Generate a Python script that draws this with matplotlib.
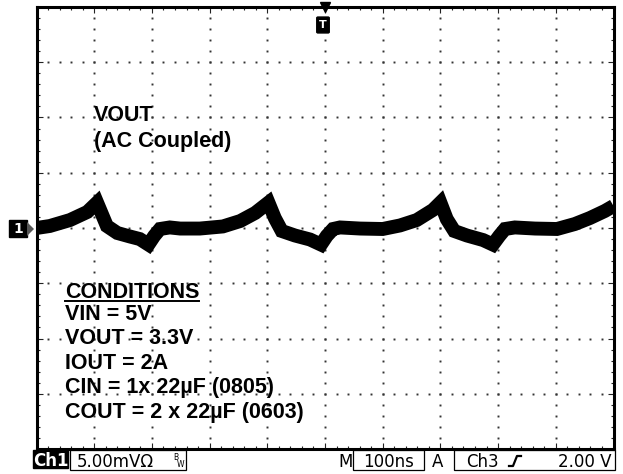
import matplotlib
matplotlib.use("Agg")
import matplotlib.pyplot as plt
import numpy as np
from matplotlib.patches import Rectangle, FancyBboxPatch
from matplotlib.lines import Line2D
from matplotlib.ticker import MultipleLocator

W, H = 623, 474

# VOUT ripple trace (AC coupled), time in ns (0 = trigger), voltage in mV
t_ns = [-500, -477, -442, -412, -395, -378, -360, -338, -321, -306,
        -296, -286, -269, -251, -217, -177, -147, -121, -98, -87,
        -75, -52, -26, -7, 3, 14, 26, 61, 100, 130,
        159, 187, 200, 211, 224, 246, 274, 291, 302, 312,
        329, 364, 402, 433, 459, 485, 500]
v_mv = [0.0, 0.18, 0.72, 1.45, 2.3, 0.18, -0.45, -0.77, -1.0, -1.5,
        -0.72, -0.09, 0.05, -0.05, -0.05, 0.14, 0.63, 1.36, 2.3, 0.9,
        -0.27, -0.68, -1.04, -1.5, -0.72, -0.09, 0.05, -0.05, -0.09, 0.23,
        0.72, 1.63, 2.3, 0.81, -0.27, -0.68, -1.09, -1.5, -0.72, -0.09,
        0.05, -0.05, -0.09, 0.36, 0.9, 1.54, 1.99]

conditions = ["VIN = 5V", "VOUT = 3.3V", "IOUT = 2A",
              "CIN = 1x 22µF (0805)", "COUT = 2 x 22µF (0603)"]


def fx(x):
    return x / W


def fy(y):
    return 1 - y / H


fig = plt.figure(figsize=(W / 100, H / 100), dpi=100)
ax = fig.add_axes([fx(36.5), fy(449), (613.5 - 36.5) / W, (449 - 7) / H])
ax.set_xlim(-500, 500)
ax.set_ylim(-20, 20)

# graticule dots
for tv in range(-400, 500, 100):
    yy = np.arange(-19, 20, 1)
    ax.plot(np.full(len(yy), tv), yy, ls="none", marker="s", ms=1.4,
            mec="none", mfc="#333333")
for vv in range(-15, 20, 5):
    xx = np.arange(-480, 500, 20)
    ax.plot(xx, np.full(len(xx), vv), ls="none", marker="s", ms=1.4,
            mec="none", mfc="#333333")

ax.xaxis.set_major_locator(MultipleLocator(100))
ax.xaxis.set_minor_locator(MultipleLocator(20))
ax.yaxis.set_major_locator(MultipleLocator(5))
ax.yaxis.set_minor_locator(MultipleLocator(1))
ax.tick_params(which="both", direction="in", top=True, right=True,
               labelbottom=False, labelleft=False, color="#222222")
ax.tick_params(which="major", length=4, width=0.8)
ax.tick_params(which="minor", length=2.5, width=0.8)
for s in ax.spines.values():
    s.set_linewidth(2.2)

ax.plot(t_ns, v_mv, color="black", lw=10, solid_joinstyle="miter",
        solid_capstyle="butt", zorder=5)

# labels inside the screen
bold = dict(family="Liberation Sans", weight="bold", fontsize=15.5,
            color="black")
fig.text(fx(94), fy(121), "VOUT", **bold)
fig.text(fx(94), fy(147), "(AC Coupled)", **bold)
ttl = fig.text(fx(65), fy(298), "CONDITIONS", **bold)
for i, line in enumerate(conditions):
    fig.text(fx(65), fy(320 + 24.5 * i), line, **bold)
fig.canvas.draw()
bb = ttl.get_window_extent().transformed(fig.transFigure.inverted())
fig.add_artist(Line2D([bb.x0, bb.x1], [fy(300.5), fy(300.5)],
                      transform=fig.transFigure, color="black", lw=1.4))

# trigger marker
ax.plot([0], [20], marker="v", ms=7, color="black", clip_on=False, zorder=6)
fig.add_artist(FancyBboxPatch((fx(318), fy(32)), 10 / W, 14 / H,
                              boxstyle="round,pad=0.002",
                              transform=fig.transFigure,
                              fc="black", ec="black"))
fig.text(fx(323), fy(25), "T", ha="center", va="center", color="white",
         fontsize=8, weight="bold", family="DejaVu Sans")

# channel 1 marker
fig.add_artist(Rectangle((fx(9), fy(237)), 18 / W, 17 / H,
                         transform=fig.transFigure, fc="black", ec="black"))
fig.add_artist(plt.Polygon([[fx(27), fy(222)], [fx(34), fy(229)],
                            [fx(27), fy(236)]],
                           transform=fig.transFigure, fc="#555555",
                           ec="none"))
fig.text(fx(18), fy(229), "1", ha="center", va="center", color="white",
         fontsize=10, weight="bold", family="DejaVu Sans")

# status bar
st = dict(family="DejaVu Sans", fontsize=12, color="black")
fig.add_artist(Rectangle((fx(33), fy(468)), 35 / W, 18 / H,
                         transform=fig.transFigure, fc="black", ec="black"))
fig.text(fx(50.5), fy(466), "Ch1", ha="center", va="baseline",
         color="white", family="DejaVu Sans", fontsize=12, weight="bold")


def outline(x0, x1, y0=450, y1=470):
    fig.add_artist(Rectangle((fx(x0), fy(y1)), (x1 - x0) / W,
                             (y1 - y0) / H, transform=fig.transFigure,
                             fc="none", ec="black", lw=0.9))


outline(70, 186)
fig.text(fx(77), fy(467), "5.00mV\u03a9", va="baseline", **st)
fig.text(fx(173), fy(460), "B", va="baseline", family="DejaVu Sans",
         fontsize=5.5)
fig.text(fx(177), fy(467), "W", va="baseline", family="DejaVu Sans",
         fontsize=5.5)
fig.text(fx(338), fy(467), "M", va="baseline", **st)
outline(353, 424)
fig.text(fx(388.5), fy(467), "100ns", ha="center", va="baseline", **st)
fig.text(fx(432), fy(467), "A", va="baseline", **st)
outline(454, 615)
fig.text(fx(466), fy(467), "Ch3", va="baseline", **st)
fig.add_artist(Line2D([fx(509), fx(513), fx(517), fx(521)],
                      [fy(466), fy(466), fy(456), fy(456)],
                      transform=fig.transFigure, color="black", lw=1.6))
fig.text(fx(612), fy(467), "2.00 V", ha="right", va="baseline", **st)

fig.savefig("out.png", dpi=100)
